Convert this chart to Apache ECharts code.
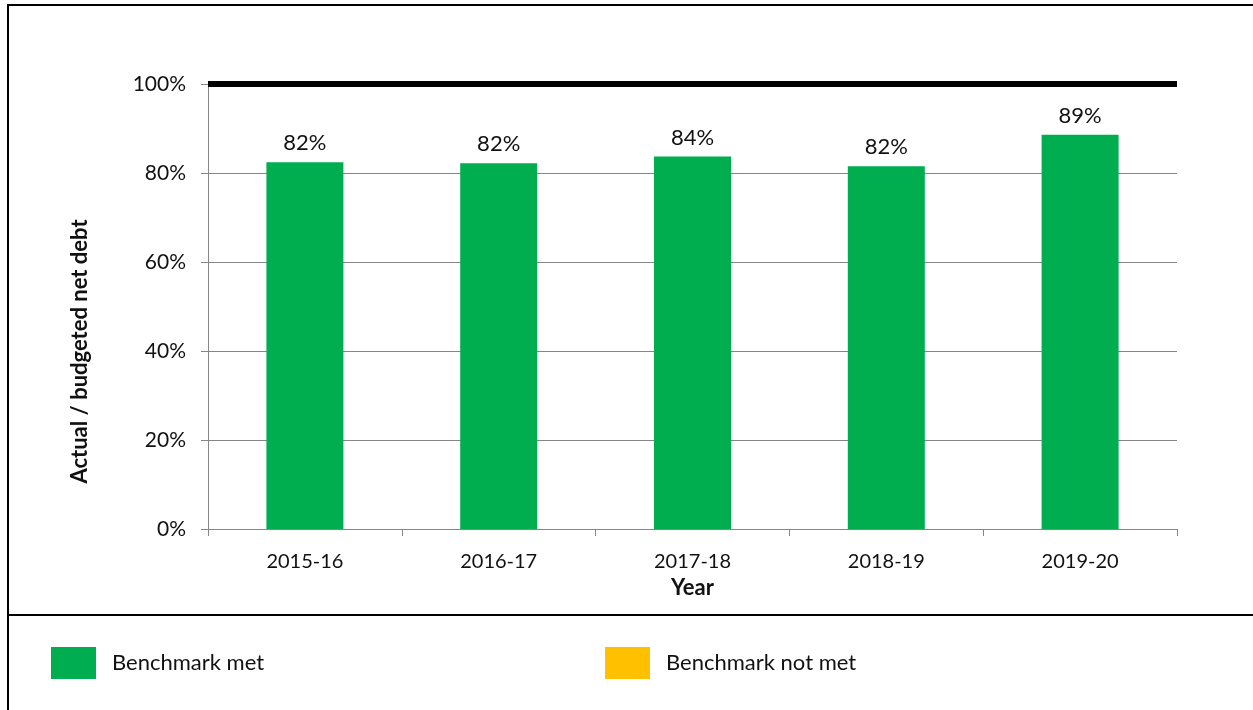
<!DOCTYPE html>
<html><head><meta charset="utf-8">
<script src="https://cdn.jsdelivr.net/npm/echarts@6/dist/echarts.min.js"></script>
<style>html,body{margin:0;padding:0;background:#fff}#c{width:1253px;height:710px}</style>
</head><body><div id="c"></div>
<script>
const categories = ['2015-16','2016-17','2017-18','2018-19','2019-20'];
const metValues = [82.4, 82.2, 83.7, 81.5, 88.6];
const notMetValues = [null, null, null, null, null];
const benchmark = 100;
const yTicks = [0, 20, 40, 60, 80, 100];

const FONT = 'Lato, "Open Sans", sans-serif';
const chart = echarts.init(document.getElementById('c'), null, {renderer:'canvas'});
chart.setOption({
  animation: false,
  textStyle: {fontFamily: FONT},
  grid: {left: 208, right: 76, top: 84, bottom: 181, containLabel: false},
  legend: [
    {data: ['Benchmark met'], left: 51, top: 647, padding: 0, itemWidth: 45, itemHeight: 32, icon: 'rect',
     textStyle: {fontSize: 22, color: '#111', fontFamily: FONT, padding: [0,0,0,11]}},
    {data: ['Benchmark not met'], left: 605, top: 647, padding: 0, itemWidth: 45, itemHeight: 32, icon: 'rect',
     textStyle: {fontSize: 22, color: '#111', fontFamily: FONT, padding: [0,0,0,11]}}
  ],
  xAxis: {
    type: 'category', data: categories,
    name: 'Year', nameLocation: 'middle', nameGap: 46,
    nameTextStyle: {fontSize: 22, fontWeight: 'bold', color: '#111', fontFamily: FONT},
    axisLine: {lineStyle: {color: '#868686', width: 1}},
    axisTick: {show: true, length: 7, lineStyle: {color: '#868686'}, alignWithLabel: false},
    axisLabel: {fontSize: 20, color: '#111', margin: 23, fontFamily: FONT}
  },
  yAxis: {
    type: 'value', min: 0, max: 100, interval: 20,
    name: 'Actual / budgeted net debt', nameLocation: 'middle', nameGap: 117,
    nameTextStyle: {fontSize: 22, fontWeight: 'bold', color: '#111', fontFamily: FONT, padding: [0, 90, 0, 0]},
    axisLine: {show: true, lineStyle: {color: '#868686', width: 1}},
    axisTick: {show: true, length: 7, lineStyle: {color: '#868686'}},
    splitLine: {lineStyle: {color: '#868686', width: 1}},
    axisLabel: {fontSize: 21, color: '#111', margin: 22, fontFamily: FONT,
      formatter: v => yTicks.includes(v) ? v + '%' : ''}
  },
  series: [
    {name: 'Benchmark met', type: 'bar', data: metValues, barWidth: 77, barGap: '-100%',
     itemStyle: {color: '#00AE4F'},
     label: {show: true, position: 'top', distance: 8, fontSize: 22, color: '#111', fontFamily: FONT,
       formatter: p => Math.round(p.value) + '%'},
     markLine: {silent: true, symbol: 'none', label: {show: false},
       lineStyle: {color: '#000', width: 6, type: 'solid'},
       data: [{yAxis: benchmark}]}},
    {name: 'Benchmark not met', type: 'bar', data: notMetValues, barWidth: 77, itemStyle: {color: '#FFC000'}}
  ],
  graphic: [
    {type: 'line', shape: {x1: 8, y1: 5, x2: 8, y2: 710}, style: {stroke: '#000', lineWidth: 2}},
    {type: 'line', shape: {x1: 7, y1: 5, x2: 1253, y2: 5}, style: {stroke: '#000', lineWidth: 2}},
    {type: 'line', shape: {x1: 7, y1: 615, x2: 1253, y2: 615}, style: {stroke: '#000', lineWidth: 2}}
  ]
});
</script></body></html>
